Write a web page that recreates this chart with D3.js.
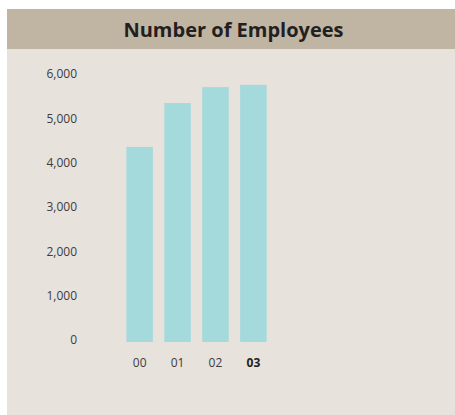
<!DOCTYPE html>
<html><head><meta charset="utf-8">
<script src="https://cdn.jsdelivr.net/npm/d3@7"></script>
<style>
html,body{margin:0;padding:0;background:#fff;}
svg{display:block;}
</style></head>
<body>
<script>
const categories = ["00","01","02","03"];
const employees = [4400, 5390, 5750, 5800];
const yTicks = [0,1000,2000,3000,4000,5000,6000];
const title = "Number of Employees";

const W = 455, H = 415;
const svg = d3.select("body").append("svg").attr("width", W).attr("height", H);
const font = "'Open Sans', 'Noto Sans', sans-serif";

svg.append("rect").attr("x",7).attr("y",9).attr("width",W-7).attr("height",H-9).attr("fill","#e7e2dc");
svg.append("rect").attr("x",7).attr("y",9).attr("width",W-7).attr("height",40).attr("fill","#c0b4a2");
svg.append("text").attr("x",233.5).attr("y",29).attr("text-anchor","middle").attr("dominant-baseline","central")
  .attr("font-family",font).attr("font-weight","bold").attr("font-size",20).attr("fill","#231f20").text(title);

const x = d3.scaleBand().domain(categories).range([105.5, 287.5]).paddingInner(0.3).paddingOuter(0.55);
const y = d3.scaleLinear().domain([0,6000]).range([342, 76]);

svg.append("g").selectAll("rect").data(categories).join("rect")
  .attr("x", d => x(d)).attr("width", x.bandwidth())
  .attr("y", (d,i) => y(employees[i])).attr("height", (d,i) => y(0) - y(employees[i]))
  .attr("fill", "#a5dadd");

const yAxis = svg.append("g").attr("transform","translate(77,-2)")
  .call(d3.axisLeft(y).tickValues(yTicks).tickSize(0).tickPadding(0).tickFormat(d3.format(",")));
yAxis.select(".domain").remove();
yAxis.selectAll("text").attr("font-family",font).attr("font-size",12).attr("fill","#3c3c3c");

const xAxis = svg.append("g").attr("transform","translate(0,358)")
  .call(d3.axisBottom(x).tickSize(0).tickPadding(0));
xAxis.select(".domain").remove();
xAxis.selectAll("text").attr("font-family",font).attr("font-size",12)
  .attr("font-weight", d => d === "03" ? "bold" : "normal")
  .attr("fill", d => d === "03" ? "#231f20" : "#3c3c3c");
</script>
</body></html>
